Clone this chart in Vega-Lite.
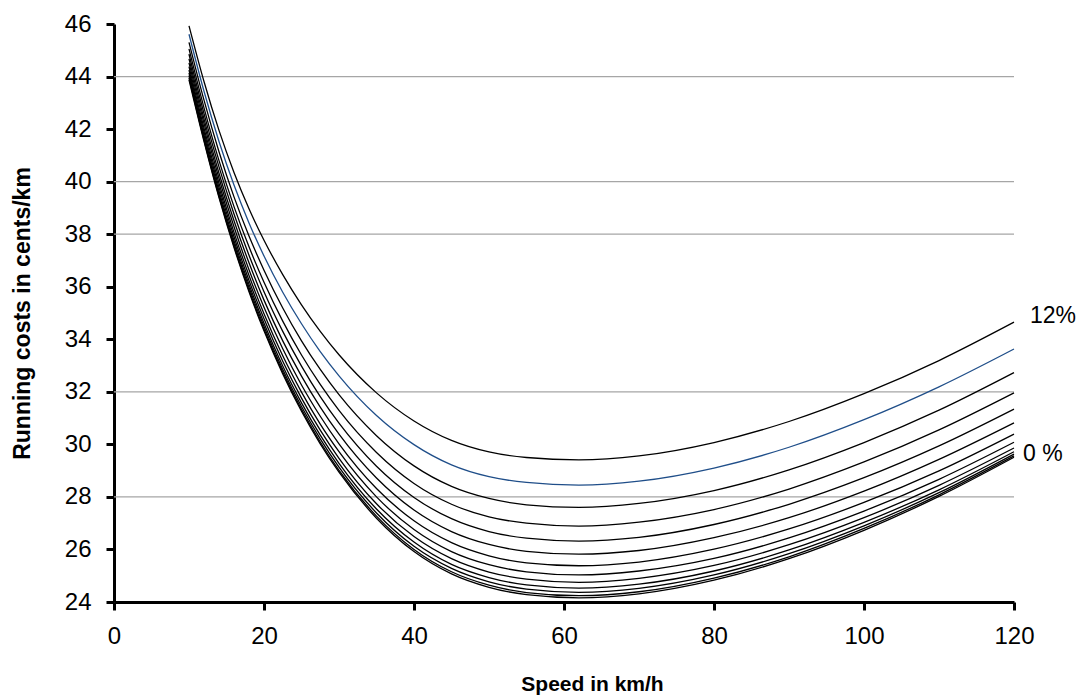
{
  "$schema": "https://vega.github.io/schema/vega-lite/v6.json",
  "width": 900,
  "height": 578,
  "autosize": {"type": "none"},
  "padding": {"left": 114, "top": 24, "right": 64, "bottom": 93},
  "background": "white",
  "config": {"view": {"stroke": null}, "font": "Liberation Sans"},
  "layer": [
    {
      "data": {"values": [{"cost": 28}, {"cost": 32}, {"cost": 38}, {"cost": 40}, {"cost": 44}]},
      "mark": {"type": "rule", "stroke": "#a6a6a6", "strokeWidth": 1.3},
      "encoding": {
        "y": {"field": "cost", "type": "quantitative", "scale": {"domain": [24, 46], "nice": false, "zero": false}}
      }
    },
    {
      "data": {"values": [
        {"x": 10, "g0": 43.87, "g1": 43.95, "g2": 44.04, "g3": 44.14, "g4": 44.25, "g5": 44.38, "g6": 44.52, "g7": 44.67, "g8": 44.85, "g9": 45.05, "g10": 45.30, "g11": 45.61, "g12": 45.93},
        {"x": 12, "g0": 41.53, "g1": 41.58, "g2": 41.67, "g3": 41.77, "g4": 41.90, "g5": 42.04, "g6": 42.22, "g7": 42.39, "g8": 42.59, "g9": 42.81, "g10": 43.10, "g11": 43.44, "g12": 43.81},
        {"x": 14, "g0": 39.39, "g1": 39.44, "g2": 39.53, "g3": 39.64, "g4": 39.78, "g5": 39.94, "g6": 40.13, "g7": 40.32, "g8": 40.56, "g9": 40.80, "g10": 41.14, "g11": 41.53, "g12": 41.95},
        {"x": 16, "g0": 37.49, "g1": 37.55, "g2": 37.64, "g3": 37.75, "g4": 37.90, "g5": 38.07, "g6": 38.28, "g7": 38.51, "g8": 38.77, "g9": 39.05, "g10": 39.42, "g11": 39.87, "g12": 40.35},
        {"x": 18, "g0": 35.81, "g1": 35.87, "g2": 35.97, "g3": 36.09, "g4": 36.24, "g5": 36.43, "g6": 36.65, "g7": 36.91, "g8": 37.20, "g9": 37.52, "g10": 37.93, "g11": 38.43, "g12": 38.97},
        {"x": 20, "g0": 34.32, "g1": 34.38, "g2": 34.49, "g3": 34.61, "g4": 34.78, "g5": 34.97, "g6": 35.22, "g7": 35.49, "g8": 35.81, "g9": 36.17, "g10": 36.63, "g11": 37.17, "g12": 37.77},
        {"x": 22.5, "g0": 32.68, "g1": 32.75, "g2": 32.85, "g3": 32.98, "g4": 33.16, "g5": 33.37, "g6": 33.64, "g7": 33.94, "g8": 34.30, "g9": 34.69, "g10": 35.19, "g11": 35.79, "g12": 36.46},
        {"x": 25, "g0": 31.26, "g1": 31.33, "g2": 31.44, "g3": 31.58, "g4": 31.76, "g5": 31.99, "g6": 32.26, "g7": 32.60, "g8": 32.98, "g9": 33.40, "g10": 33.94, "g11": 34.59, "g12": 35.31},
        {"x": 27.5, "g0": 30.02, "g1": 30.09, "g2": 30.21, "g3": 30.35, "g4": 30.54, "g5": 30.77, "g6": 31.07, "g7": 31.42, "g8": 31.82, "g9": 32.28, "g10": 32.85, "g11": 33.53, "g12": 34.30},
        {"x": 30, "g0": 28.94, "g1": 29.01, "g2": 29.13, "g3": 29.28, "g4": 29.47, "g5": 29.72, "g6": 30.02, "g7": 30.39, "g8": 30.81, "g9": 31.29, "g10": 31.89, "g11": 32.61, "g12": 33.41},
        {"x": 35, "g0": 27.19, "g1": 27.27, "g2": 27.39, "g3": 27.54, "g4": 27.74, "g5": 28.00, "g6": 28.32, "g7": 28.72, "g8": 29.17, "g9": 29.69, "g10": 30.33, "g11": 31.10, "g12": 31.96},
        {"x": 40, "g0": 25.92, "g1": 26.00, "g2": 26.12, "g3": 26.28, "g4": 26.49, "g5": 26.76, "g6": 27.09, "g7": 27.50, "g8": 27.98, "g9": 28.51, "g10": 29.18, "g11": 29.99, "g12": 30.89},
        {"x": 45, "g0": 25.07, "g1": 25.15, "g2": 25.28, "g3": 25.43, "g4": 25.65, "g5": 25.92, "g6": 26.26, "g7": 26.68, "g8": 27.17, "g9": 27.72, "g10": 28.40, "g11": 29.22, "g12": 30.15},
        {"x": 50, "g0": 24.56, "g1": 24.64, "g2": 24.77, "g3": 24.93, "g4": 25.14, "g5": 25.42, "g6": 25.76, "g7": 26.19, "g8": 26.68, "g9": 27.24, "g10": 27.94, "g11": 28.77, "g12": 29.71},
        {"x": 55, "g0": 24.28, "g1": 24.36, "g2": 24.49, "g3": 24.65, "g4": 24.87, "g5": 25.15, "g6": 25.49, "g7": 25.93, "g8": 26.43, "g9": 27.00, "g10": 27.70, "g11": 28.55, "g12": 29.50},
        {"x": 62, "g0": 24.16, "g1": 24.24, "g2": 24.37, "g3": 24.53, "g4": 24.75, "g5": 25.03, "g6": 25.38, "g7": 25.82, "g8": 26.32, "g9": 26.89, "g10": 27.60, "g11": 28.45, "g12": 29.41},
        {"x": 70, "g0": 24.31, "g1": 24.39, "g2": 24.52, "g3": 24.68, "g4": 24.90, "g5": 25.18, "g6": 25.52, "g7": 25.96, "g8": 26.46, "g9": 27.04, "g10": 27.75, "g11": 28.60, "g12": 29.56},
        {"x": 80, "g0": 24.83, "g1": 24.91, "g2": 25.03, "g3": 25.18, "g4": 25.39, "g5": 25.66, "g6": 26.01, "g7": 26.45, "g8": 26.95, "g9": 27.52, "g10": 28.24, "g11": 29.10, "g12": 30.07},
        {"x": 90, "g0": 25.65, "g1": 25.72, "g2": 25.84, "g3": 25.98, "g4": 26.18, "g5": 26.44, "g6": 26.78, "g7": 27.21, "g8": 27.72, "g9": 28.30, "g10": 29.03, "g11": 29.89, "g12": 30.87},
        {"x": 100, "g0": 26.73, "g1": 26.80, "g2": 26.90, "g3": 27.03, "g4": 27.21, "g5": 27.46, "g6": 27.79, "g7": 28.22, "g8": 28.73, "g9": 29.33, "g10": 30.07, "g11": 30.94, "g12": 31.93},
        {"x": 110, "g0": 28.02, "g1": 28.08, "g2": 28.16, "g3": 28.27, "g4": 28.44, "g5": 28.67, "g6": 28.99, "g7": 29.43, "g8": 29.94, "g9": 30.55, "g10": 31.30, "g11": 32.19, "g12": 33.19},
        {"x": 120, "g0": 29.51, "g1": 29.56, "g2": 29.63, "g3": 29.72, "g4": 29.86, "g5": 30.08, "g6": 30.39, "g7": 30.82, "g8": 31.34, "g9": 31.96, "g10": 32.73, "g11": 33.63, "g12": 34.65}
      ]},
      "transform": [{"fold": ["g0", "g1", "g2", "g3", "g4", "g5", "g6", "g7", "g8", "g9", "g10", "g11", "g12"], "as": ["grade", "cost"]}],
      "mark": {"type": "line", "interpolate": "monotone", "strokeWidth": 1.3},
      "encoding": {
        "x": {
          "field": "x", "type": "quantitative",
          "scale": {"domain": [0, 120], "nice": false, "zero": false},
          "axis": {
            "values": [0, 20, 40, 60, 80, 100, 120],
            "title": "Speed in km/h",
            "titleFont": "Liberation Sans", "titleFontSize": 21, "titleFontWeight": "bold", "titleColor": "black",
            "titleX": 478, "titleY": 88, "titleBaseline": "alphabetic", "titleAnchor": "middle", "titleAlign": "center",
            "labelFont": "Liberation Sans", "labelFontSize": 24, "labelColor": "black", "labelPadding": 14,
            "labelFlush": false, "labelOverlap": false,
            "tickSize": 8, "tickWidth": 3, "tickColor": "black",
            "domainColor": "black", "domainWidth": 3, "grid": false
          }
        },
        "y": {
          "field": "cost", "type": "quantitative",
          "scale": {"domain": [24, 46], "nice": false, "zero": false},
          "axis": {
            "values": [24, 26, 28, 30, 32, 34, 36, 38, 40, 42, 44, 46],
            "title": "Running costs in cents/km",
            "titleFont": "Liberation Sans", "titleFontSize": 23, "titleFontWeight": "bold", "titleColor": "black",
            "titleX": -92, "titleY": 289, "titleAngle": -90, "titleAlign": "center", "titleBaseline": "middle",
            "labelFont": "Liberation Sans", "labelFontSize": 24, "labelColor": "black", "labelPadding": 15,
            "labelFlush": false, "labelOverlap": false,
            "tickSize": 8, "tickWidth": 3, "tickColor": "black",
            "domainColor": "black", "domainWidth": 3, "grid": false
          }
        },
        "color": {
          "field": "grade", "type": "nominal",
          "scale": {
            "domain": ["g0", "g1", "g2", "g3", "g4", "g5", "g6", "g7", "g8", "g9", "g10", "g11", "g12"],
            "range": ["black", "black", "black", "black", "black", "black", "black", "black", "black", "black", "black", "#1F4E89", "black"]
          },
          "legend": null
        }
      }
    },
    {
      "data": {"values": [{"x": 120, "cost": 34.87, "label": "12%"}]},
      "mark": {"type": "text", "align": "left", "baseline": "middle", "dx": 16, "fontSize": 23, "font": "Liberation Sans", "color": "black"},
      "encoding": {
        "x": {"field": "x", "type": "quantitative"},
        "y": {"field": "cost", "type": "quantitative"},
        "text": {"field": "label"}
      }
    },
    {
      "data": {"values": [{"x": 120, "cost": 29.65, "label": "0 %"}]},
      "mark": {"type": "text", "align": "left", "baseline": "middle", "dx": 9, "fontSize": 23, "font": "Liberation Sans", "color": "black"},
      "encoding": {
        "x": {"field": "x", "type": "quantitative"},
        "y": {"field": "cost", "type": "quantitative"},
        "text": {"field": "label"}
      }
    }
  ]
}
